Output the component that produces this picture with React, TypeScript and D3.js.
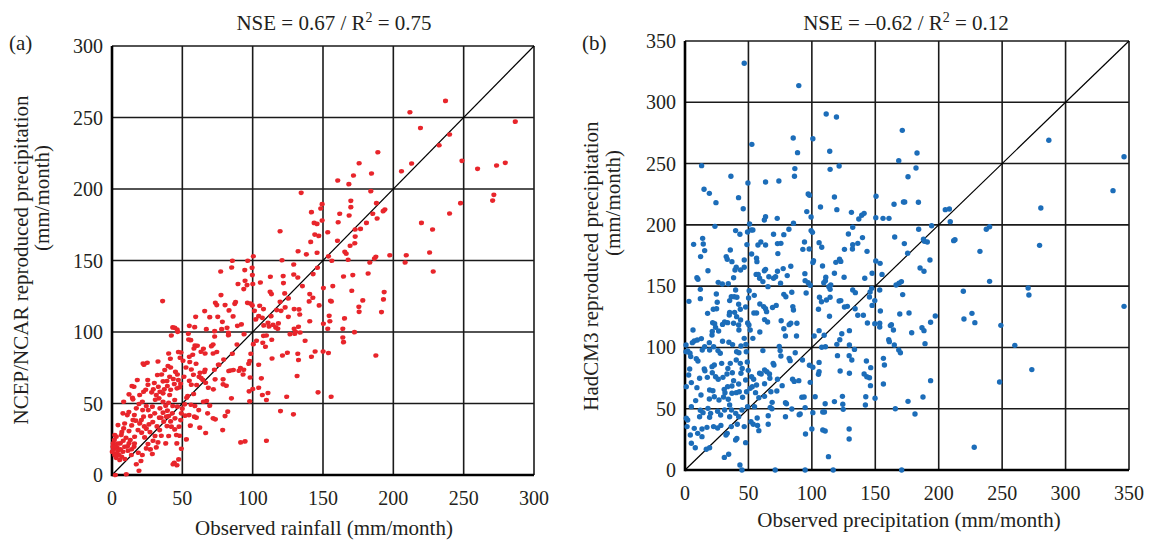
import React from "react";
import * as d3 from "d3";

const ticksA = [0, 50, 100, 150, 200, 250, 300];
const ticksB = [0, 50, 100, 150, 200, 250, 300, 350];

const pointsA: [number, number][] = [
[237.1,261.6],[211.8,253.7],[286.7,247.1],[219.3,242.7],[240,238.1],[232.6,230.6],[189,225.7],[248.8,219.7],[175.7,218],[213,217.8],[273.4,216.4],[279.6,218.3],[259.9,214.1],[205.8,212.4],[184.5,210.8],[171.7,209.4],[160.5,205.9],[168.4,203.4],[184,198.5],[134.5,197.3],[271.5,195.9],[270.6,191.9],[169.8,191.7],[247.8,190.1],[149.4,189.4],[188,190.1],[148.4,186.4],[169.8,187.3],[194,185.6],[192.8,184.5],[141.8,183.8],[161.9,182.7],[185.4,182.7],[168.6,181.5],[240,182.9],[188.5,179.4],[149.4,178],[143.7,176.3],[145.8,175.6],[160.8,176.8],[180.9,176.3],[220,176.3],[176.7,172.1],[172.9,171.7],[227.9,171.7],[119.5,170.5],[153.4,169.8],[144.2,168.1],[147,167.2],[172.9,166.7],[160.3,163.8],[141.3,163],[172.6,162.1],[169.3,160.3],[132.3,156.5],[165.5,156.1],[145.8,155.4],[225.8,155.6],[138.2,154.3],[166.5,154.7],[197.5,153.7],[209.2,153.7],[153.9,152.9],[187.6,152.6],[186.6,151.4],[100.5,153],[85.6,149.8],[96.5,149.8],[120.9,150.2],[167.9,150.5],[156.3,149.8],[208.4,148.6],[183.3,148.6],[129.2,147.2],[146.1,144.9],[85.1,145.1],[94.4,143.3],[99.6,144.9],[77.3,142.3],[228.4,142.3],[182.1,140.9],[164.6,138.8],[171.2,139.8],[143,140.5],[121.7,139.1],[112.6,138.6],[129.2,140.2],[132.1,138.1],[99.8,139.8],[121.9,134.2],[94.6,135.8],[105.5,134.6],[89.6,133.6],[100.1,133.6],[96,132.8],[93.7,130],[135.4,132.1],[150.3,130.7],[157,132.1],[170.5,128.8],[193.5,127.9],[112.4,128.1],[113.4,126.5],[122.8,127],[77.5,125.8],[140.6,126.5],[142.8,124],[125.4,123.5],[193,122.8],[178.3,122.1],[155.3,121.9],[156,121.4],[140.2,121.4],[119.5,121.1],[73.5,120.4],[36,121.6],[87.3,119.7],[87.9,120.9],[96.3,120.4],[98.4,119.9],[99.8,118.6],[80.4,118.8],[74.5,118.8],[105,118.4],[147.3,118.6],[175.5,117.6],[175.7,114.1],[191.6,113.9],[165.3,109.5],[65.9,114.6],[83.2,115.1],[75.2,110.6],[86.1,110.9],[101.3,114.8],[107.7,116],[117.1,115.3],[120.2,114.8],[129.5,116],[133,115.8],[123.1,117.2],[125.4,110.6],[133.5,112.2],[154.4,111.3],[69.5,110.4],[59.5,110.6],[104.3,111.1],[106.9,109.9],[102.2,108.8],[113.1,111.1],[140.6,107.5],[154.9,107.5],[78.5,107.1],[92,105.3],[89.2,104.3],[81.8,102.9],[58.8,103.4],[55,104.3],[67.1,102],[78,102],[82.8,99.4],[43.2,103.2],[44.6,103],[46.3,101.8],[42.2,97.6],[46.7,100.1],[110.9,106.4],[107.9,104.6],[114.5,105.1],[118.3,106],[111.7,103.9],[116.4,103.2],[117.9,102.3],[129.5,102.3],[132.6,103.7],[133.8,99.7],[130,98.8],[126.6,98.5],[130.4,100.1],[150.3,105.8],[153.4,102.3],[164.1,102.3],[172.4,99.9],[164.1,96.2],[164.6,92.9],[107.7,97.3],[109.8,97.6],[113.6,94.6],[107.2,92.5],[109.1,89.7],[102.7,93.9],[100.5,91.5],[88.9,91.3],[93.9,98.5],[73,100.6],[73,96.9],[82.8,97.8],[71.9,91.3],[70.7,90.1],[65,88.3],[54.3,98.8],[54.5,94.8],[56,94.3],[59,90.6],[60.7,90.4],[58.3,88.5],[63.3,86.2],[57.4,84.1],[55,82.7],[47.2,86],[49.1,85.7],[40.3,85],[48.4,82],[41.5,81.3],[32.7,79.4],[25.1,78.5],[22.1,78],[66.2,85],[71.9,85],[74.5,86],[85.6,84.8],[98.7,84.8],[97.9,79.7],[97.2,77.8],[104.3,77.1],[79.4,80.8],[76.1,77.1],[72.8,73.6],[66.2,73.6],[65.7,72],[59.8,77.8],[55.3,79],[50.5,79.9],[52.6,75.2],[56.4,73.8],[62.6,71.5],[57.9,70.1],[51.2,68.7],[45.1,72.2],[46.5,70.3],[39.8,76.2],[41.7,75.2],[37.5,73.4],[35.3,70.3],[32.3,69.9],[41,68.7],[43.6,67.1],[47.2,66.4],[48.8,63.8],[44.3,63.6],[39.1,65.7],[36.3,65.5],[30.1,64.3],[25.4,66.4],[22.5,58.2],[24,59.6],[29.4,59.9],[33,61.7],[34.1,58.2],[37.2,59.9],[39.4,62.2],[41.7,59.6],[46.2,60.6],[48.1,61.3],[55,65.9],[56.4,63.1],[60.2,62.9],[64.5,66.6],[61.9,68.7],[63.3,67.8],[66.6,64.5],[68.5,61],[73.3,66.9],[72.1,59.9],[79,66.9],[81.3,62.4],[79,63.4],[91.3,74.8],[93.7,73.6],[90.3,72.9],[93.2,70.3],[98.2,68.2],[106.2,67.6],[97.5,58.5],[100.1,60.1],[104.3,61],[106.9,55.9],[110.9,57.3],[109.8,52.4],[97.9,51.5],[84.9,53.6],[83,72.7],[84.2,73.1],[86.3,73.4],[75.6,77.1],[121.2,83.6],[124.7,85.5],[132.1,84.8],[132.6,80.4],[137.3,93.9],[131.6,69.2],[141.8,82.7],[144.4,86.4],[150.1,86.4],[153.9,85.3],[113.8,81.5],[146.5,57.8],[155.8,54.7],[124.2,54.7],[119.8,44.7],[129,42.4],[187.6,83.6],[109.8,24],[91.5,22.8],[94.6,23.5],
[67.3,51.7],[69.5,48.5],[65,51.2],[68,43.1],[73.5,38.9],[71.9,39.6],[78.7,31.4],[80.4,41.2],[82.3,44.3],[66.6,29.4],[62.4,33.1],[55.7,34.5],[61.7,45.4],[60,40.1],[58.6,40.8],[54.8,41.9],[59,48.2],[56.2,49.1],[53.1,54],[53.8,55.2],[58.1,56.6],[51.7,49.4],[50,46.4],[49.3,43.1],[52,41.5],[48.8,38.4],[47.7,33.8],[45.8,28],[48.1,27.5],[52.9,24.9],[46.1,22.1],[49.3,18.4],[47.4,10.9],[46.2,6.8],[43.4,7.5],[44.3,8.6],[42.9,43.1],[44.8,39.6],[41.7,37.5],[40.3,41.2],[39.4,45],[38.2,48.5],[40.3,50.5],[36.3,51.2],[33.4,53.6],[30.8,52.6],[34.1,46.6],[33.7,40.1],[36.8,37.3],[39.1,34.2],[40.3,27.3],[38.2,22.1],[33.9,31.4],[30.6,27.3],[29.2,24],[31.5,19.3],[27.3,17.9],[28.7,14.7],[25.6,21.7],[23.2,26.3],[21.1,29.6],[24.4,32.4],[26.3,35.4],[22.5,40.8],[20.9,38.4],[27.3,41.2],[25.8,45.4],[21.8,45.4],[19.2,49.6],[17.3,46.6],[15.9,41.9],[14.9,38.4],[14,34.7],[12.1,30.7],[13,24.5],[15.7,19.8],[18.7,15.6],[20.6,9.8],[19.2,3],[17.3,7.5],[10.2,0.5],[2.4,0],[9.2,11.2],[6.9,12.8],[4.5,17],[1.9,14],[1.2,17.9],[0.9,22.1],[1.7,24.5],[3.1,26.8],[4.3,34.9],[7.8,43.1],[8.3,51.2],[5.9,22.1],[9,19.8],[11.4,17],[13.8,14],[12.1,22.1],[5.5,10.5],[3.1,15.1],[7.8,16.3],[14.9,52.9],[14.2,62.2],[15.7,61.7],[12.1,56.4],[14.5,54],[18,66.4],[22.8,77.1],[25.6,63.1],[28.2,57.8],[31.5,55.9],[19.7,55.9],[21.6,51.2],[24.4,48.2],[28.7,47.8],[30.4,43.1],[36.3,43.6],[38.7,40.8],[42.2,33.8],[44.6,31.9],[35.1,27.5],[32.7,22.8],[24.4,18.6],[21.6,14],[16.1,26.8],[18.5,31.4],[19.7,36.1],[10.9,41.9],[8.3,32.6],[6.6,28],[3.6,19.3],[0.2,16.3],[0.7,19.8],[41,55.9],[36.3,57.1],[44.6,52.4],[46.5,47.8],[43.2,48.2],
[2,20],[4,22],[6,18],[8,24],[10,26],[3,12],[5,14],[11,20],[14,18],[16,22],[2,28],[7,30],[9,36],[12,44],[17,38],[23,34],[27,30],[29,37],[32,34],[35,40]
];

const pointsB: [number, number][] = [
[46.7,331.8],[89.7,313.6],[111.3,290.5],[119.4,288],[171.3,277.1],[52.7,265.7],[85.3,270.9],[100.8,270.3],[286.8,269],[88.7,258.9],[114.1,260],[182.9,258.6],[168.5,252.4],[346.1,255.6],[13.1,248.3],[86.6,245.9],[114.4,245.3],[121.5,248],[182.1,246.4],[36.2,239.6],[86.3,239.6],[175.8,239.3],[63.5,235],[74,235.8],[49.6,234.2],[15,229],[19.2,225.7],[42.2,222.2],[97.1,225.2],[98.1,224.1],[117.8,222.7],[150.6,223.3],[337.4,227.9],[24.4,218.1],[45.9,213.2],[106.8,214.6],[119.7,212.4],[131.2,210.2],[96,210.8],[164.8,216.8],[172.2,218.7],[173.2,218.7],[184,218.4],[205.2,212.4],[208.4,212.9],[280.5,213.8],[99.4,206.4],[137,204.8],[139.3,207.8],[141.2,209.4],[150.4,205.9],[156.1,205.3],[160.8,205.3],[209.1,202.6],[23.6,198.8],[50.9,200.7],[62.5,204],[63.5,206.7],[72.7,205.3],[85.5,201.3],[49.3,194.2],[53.5,195.8],[52.2,195.8],[39.9,195.3],[43.3,192.3],[81.9,196.4],[69.8,192.3],[77.9,192],[99.4,195.3],[100.5,193.9],[132.2,198],[128.8,192.5],[194.4,199.3],[184.2,196.4],[237.5,196.4],[240.1,198.5],[165.3,190.1],[139.9,189.6],[48.8,183.9],[6.8,184.1],[13.9,189],[14.4,184.4],[57.5,183.6],[59.8,186],[63.5,183.6],[72.9,184.7],[75.6,184.9],[94.2,186],[105.7,185.5],[107.8,181.7],[132.2,183.8],[132,180.3],[136.2,184.9],[125.7,180],[92.9,180],[97.9,180.3],[143.5,178.4],[172.9,184.7],[175.5,176.8],[191,186],[188.7,186.6],[188,188.2],[211.8,187.1],[212.8,187.9],[232.5,178.4],[279.5,183.3],[35.7,179.5],[12.3,174.1],[52.5,176.2],[73.2,176.5],[32.5,174.1],[33.3,171.9],[37,170],[46.7,171.3],[56.4,172.7],[56.7,170],[40.4,165.4],[39.4,163.2],[43.8,163.2],[46.7,165.4],[38.3,156.9],[9.4,156.9],[10.2,155.6],[18.1,162.6],[29.4,151.8],[34.1,152],[56.1,159.6],[57.7,159.6],[58.8,156.4],[62.5,162.6],[63.5,163.7],[66.1,157.7],[65.4,149.6],[61.4,153.7],[69.8,156.4],[71.4,157.7],[72.9,162.1],[77.4,164.3],[80.6,158.6],[83.4,166.2],[94.5,160.2],[75.3,152.3],[100.8,169.2],[101.3,170.8],[108.4,166.4],[117.8,160.5],[118.9,169.4],[121.8,171.9],[122.8,170.2],[125.4,157.2],[111,157.2],[110.7,154.5],[94.7,154.5],[97.1,152.8],[98.7,150.7],[109.4,152.8],[113.4,149.6],[114.9,150.9],[114.4,147.4],[132.2,146.9],[134.3,144.7],[141.7,156.4],[147.5,160.5],[153.8,168.6],[150.4,170.5],[155.3,159.6],[145.9,145.2],[147.2,148.2],[153.5,146.9],[145.4,141.1],[149.6,138.2],[147.5,134.3],[140.6,126.2],[136.2,126.2],[134.1,131.6],[128,133.5],[154,129.7],[170.6,153.7],[168.7,152.3],[166.4,150.9],[171.6,143.1],[169.3,127.3],[176.6,128.1],[193.1,171.3],[185.3,164.8],[188.4,162.1],[219.4,145.8],[240.1,153.9],[270.5,148.5],[271.1,142.8],[346.1,133.5],[219.9,123.2],[226.2,127.8],[228.5,120.2],[249,118],[197.3,125.6],[193.6,120.5],[186.8,116.1],[188.4,113.7],[178.7,112],[189.2,103.1],[162.7,118.6],[164.3,114.2],[161.9,117.8],[153.5,119.7],[149.6,119.4],[153.5,116.7],[143.8,119.9],[160.6,106.3],[161.1,104.7],[165,102],[168.5,97.9],[169.8,95.7],[156.4,91.1],[157.2,85.7],[156.4,70.2],[146.4,83.5],[145.4,75.3],[143.3,76.1],[146.2,68.8],[141.2,78.3],[143,88.9],[149.8,58.5],[142.5,59.8],[142.2,53],[124.1,60.1],[117.8,55.8],[124.4,53.6],[124.7,49.5],[129.4,33.5],[129.4,25.3],[113.1,10.9],[116.8,0],[109.9,47.3],[108.6,32.6],[110.5,31.8],[110.5,54.1],[108.6,47.3],[102.6,59.8],[100.8,46.8],[100,33.5],[95,29.4],[94.7,0],[71.1,0],[44.9,0],[43.3,4.1],[170.8,0],[228,18.5],[181.3,45.7],[175.8,56],[187.6,59.6],[193.6,72.9],[165.8,50],[248,71.8],[260,101.7],[273.4,81.9],[129.6,78.9],[122.3,80.8],[120.2,93.3],[131.5,89.7],[129.4,93.3],[133.6,98.4],[129.6,102],[129.6,113.7],[123.6,111.2],[122,106.3],[119.7,102.5],[110.7,100.6],[107.8,100.1],[109.7,109.9],[105.7,113.7],[101.8,109.3],[105.7,87.8],[105.2,78.1],[105.7,80.2],[100.8,83.8],[98.1,85.4],[98.7,71.5],[92.6,89.7],[89.7,72.9],[86.9,95.7],[82.9,89.2],[82.1,91.1],[74.3,100.9],[75,97.4],[75.6,93],[70.1,85.7],[69.5,87],[66.6,78.3],[66.9,74.8],[72.9,74],[76.6,68.8],[72.4,64.5],[67.7,63.9],[79.2,54.9],[80,54.1],[84.2,49.8],[79.2,43.5],[84.8,74],[86.1,72.3],[92.1,59.3],[93.9,59.6],[94.7,50.9],[90.8,45.7],[90,45.1],[67.2,51.1],[68.5,50],[65.6,44.3],[65.6,37.3],[68.7,55.2],[58.2,32.1],[57.2,36.4],[56.9,42.4],[52,39.4],[53.8,37.3],[54.8,51.7],[58.2,59],[62.7,60.1],[55.6,63.1],[56.4,69.4],[53,68],[62.7,70.4],[58.8,78.9],[60.1,78.3],[62.7,81.6],[64.5,80.2],[54.1,74],[47.8,73.4],[52.5,76.1],[49.9,81.3],[49.1,88.1],[43.6,87],[45.1,82.9],[44.1,78.9],[40.4,89.7],[42.5,95.7],[48.3,96.5],[46.7,107.4],[42.5,114.2],[50.4,118.3],[51.4,114.2],[48,102.5],[44.1,101.2],[40.7,96.5],[37.5,102.3],[34.6,104.2],[29.6,105],[26.5,113.4],[24.1,116.4],[29.6,118.8],[33.6,120.2],[38.3,119.7],[42.3,118.3],[43.8,122.4],[40.7,125.1],[39.1,128.6],[43.6,131.1],[42.3,135.2],[36.5,141.4],[38.8,141.4],[40.9,140.9],[35.2,138.2],[39.9,146.9],[35.2,128.6],[34.9,126.5],[31.2,120.7],[24.7,143.6],[25.4,136.8],[24.9,131.6],[22.3,131.1],[17.8,127.8],[21.8,120.2],[23.4,119.4],[21.5,113.1],[21.3,110.1],[19.2,103.9],[12.9,107.2],[9.7,106.1],[7.3,105.3],[5.8,103.9],[0.8,102],[2.1,97.1],[6.3,114.2],[3.1,137.6],[12.1,139.8],[12.1,147.4],[50.1,140.3],[50.6,146.3],[54.6,142.5],[47.8,133],[49.4,119.9],[54.3,128.1],[56.4,128.1],[59,135.4],[62,133.3],[63.5,131.6],[64.3,129.2],[65.1,120.7],[62.7,122.7],[59,112.6],[53.5,107.4],[61.4,97.4],[71.9,134.3],[69,132.6],[75.8,121.8],[77.9,115.3],[79.2,109.3],[82.1,118.6],[83.4,119.7],[84.2,145],[85,133.3],[85.5,130.5],[77.9,143.3],[79.5,141.4],[88.2,119.7],[87.9,109.3],[95.5,144.4],[105.2,131.1],[106,140.9],[107.6,137.3],[111.5,138.7],[114.4,140.9],[113.9,125.4],[121.5,137.9],[122.8,138.2],[125.7,133],[26.2,153.1],[15.5,179],
[0.8,96.5],[3.9,95.2],[4.5,92.5],[8.9,90.8],[10.2,88.9],[13.6,97.9],[15.5,100.6],[19.4,97.9],[22.6,100.6],[26,97.4],[27.8,95.2],[28.9,87],[21.3,84.3],[23.1,85.7],[15.2,82.4],[15.7,81],[11.5,74.8],[17.6,75.6],[24.1,76.1],[21.5,79.4],[26.2,74],[29.9,75.6],[33.1,78.3],[35.7,87],[33.8,82.9],[37.3,79.4],[38.3,72.9],[42.3,70.2],[37,68.5],[33.6,68],[30.9,65.8],[31.5,63.1],[3.7,82.4],[2.9,77.5],[5,71.3],[1,68],[9.4,67.2],[12.6,61.2],[19.4,65.3],[22,64.7],[19.2,57.9],[23.1,59.8],[26.8,57.1],[30.4,59.6],[34.1,57.7],[37,62.6],[40.4,63.1],[42.8,63.9],[45.4,59.3],[48.5,63.9],[8.4,56.6],[5,51.7],[12.1,48.7],[14.2,46.8],[11.5,43.5],[18.1,50.3],[20.2,46.2],[19.4,43],[25.7,47.9],[28.1,44.9],[31.2,49],[35.2,53],[36.7,49],[35.2,43.5],[40,46.2],[41.2,37.3],[36.5,35.4],[33.3,29.9],[32.3,28.6],[40.9,25.8],[46.7,35.4],[47.8,22.3],[28.3,36.4],[25.7,34.3],[22.5,35.4],[17.3,34.8],[13.4,33.5],[13.4,27.2],[10,29.9],[7.3,34],[4.2,28.6],[1.6,35.4],[2.1,40.8],[1,42.2],[8.1,18.2],[5,21.8],[16.8,16.9],[31,10.3],[34.4,12.8],[19.4,18.2],[39.9,24.5],[42.3,43.5],[44.9,49],[49.3,51.7],[51.4,66.6]
];

const FONT = "'Liberation Serif', 'Times New Roman', serif";
const TXT = "#231f20";

type PanelProps = {
  points: [number, number][];
  ticks: number[];
  max: number;
  box: { left: number; right: number; top: number; bottom: number };
  color: string;
  rx: number;
  ry: number;
  title: React.ReactNode;
  titleX: number;
  letter: string;
  letterX: number;
  xLabel: string;
  xLabelX: number;
  xLabelY: number;
  xTickY: number;
  yLabel1: string;
  yLabel1X: number;
  yLabel1Y: number;
  yLabel2X: number;
  yLabel2Y: number;
};

function Panel(p: PanelProps) {
  const { left, right, top, bottom } = p.box;
  const x = d3.scaleLinear().domain([0, p.max]).range([left, right]);
  const y = d3.scaleLinear().domain([0, p.max]).range([bottom, top]);
  return (
    <g>
      {p.ticks.map((t) => (
        <line key={"v" + t} x1={x(t)} x2={x(t)} y1={top} y2={bottom} stroke="#1a1a1a" strokeWidth={1.6} />
      ))}
      {p.ticks.map((t) => (
        <line key={"h" + t} x1={left} x2={right} y1={y(t)} y2={y(t)} stroke="#1a1a1a" strokeWidth={1.6} />
      ))}
      <line x1={x(0)} y1={y(0)} x2={x(p.max)} y2={y(p.max)} stroke="#000" strokeWidth={1.2} />
      <line x1={left} x2={right} y1={bottom} y2={bottom} stroke="#000" strokeWidth={2.6} />
      <line x1={left} x2={left} y1={top} y2={bottom + 1.3} stroke="#000" strokeWidth={2.6} />
      {p.points.map((d, i) => (
        <ellipse key={i} cx={x(d[0])} cy={y(d[1])} rx={p.rx} ry={p.ry} fill={p.color} />
      ))}
      {p.ticks.map((t) => (
        <text key={"xt" + t} x={x(t)} y={p.xTickY} textAnchor="middle" fontFamily={FONT} fontSize={20} fill={TXT}>
          {t}
        </text>
      ))}
      {p.ticks.map((t) => (
        <text key={"yt" + t} x={left - 9} y={y(t) + 7} textAnchor="end" fontFamily={FONT} fontSize={20} fill={TXT}>
          {t}
        </text>
      ))}
      <text x={p.titleX} y={30} textAnchor="middle" fontFamily={FONT} fontSize={21} fill={TXT}>
        {p.title}
      </text>
      <text x={p.letterX} y={50} fontFamily={FONT} fontSize={21} fill={TXT}>
        {p.letter}
      </text>
      <text x={p.xLabelX} y={p.xLabelY} textAnchor="middle" fontFamily={FONT} fontSize={21} fill={TXT}>
        {p.xLabel}
      </text>
      <text
        transform={`translate(${p.yLabel1X},${p.yLabel1Y}) rotate(-90)`}
        textAnchor="middle"
        fontFamily={FONT}
        fontSize={21}
        fill={TXT}
      >
        {p.yLabel1}
      </text>
      <text
        transform={`translate(${p.yLabel2X},${p.yLabel2Y}) rotate(-90)`}
        textAnchor="middle"
        fontFamily={FONT}
        fontSize={21}
        fill={TXT}
      >
        (mm/month)
      </text>
    </g>
  );
}

export default function App() {
  const titleA = (
    <>
      <tspan>NSE = 0.67 / R</tspan>
      <tspan fontSize={14} dy={-8}>2</tspan>
      <tspan dy={8}> = 0.75</tspan>
    </>
  );
  const titleB = (
    <>
      <tspan>NSE = –0.62 / R</tspan>
      <tspan fontSize={14} dy={-8}>2</tspan>
      <tspan dy={8}> = 0.12</tspan>
    </>
  );
  return (
    <svg
      width={1152}
      height={541}
      style={{ position: "absolute", left: 0, top: 0, background: "#fff" }}
    >
      <Panel
        points={pointsA}
        ticks={ticksA}
        max={300}
        box={{ left: 112, right: 534, top: 46, bottom: 475 }}
        color="#e8252b"
        rx={2.6}
        ry={2.3}
        title={titleA}
        titleX={334}
        letter="(a)"
        letterX={9}
        xLabel="Observed rainfall (mm/month)"
        xLabelX={324}
        xLabelY={535}
        xTickY={505}
        yLabel1="NCEP/NCAR reproduced precipitation"
        yLabel1X={28}
        yLabel1Y={260}
        yLabel2X={49}
        yLabel2Y={198}
      />
      <Panel
        points={pointsB}
        ticks={ticksB}
        max={350}
        box={{ left: 685, right: 1129, top: 41, bottom: 470 }}
        color="#1c6db9"
        rx={2.7}
        ry={2.7}
        title={titleB}
        titleX={906}
        letter="(b)"
        letterX={582}
        xLabel="Observed precipitation (mm/month)"
        xLabelX={909}
        xLabelY={527}
        xTickY={500}
        yLabel1="HadCM3 reproduced precipitation"
        yLabel1X={598}
        yLabel1Y={266}
        yLabel2X={620}
        yLabel2Y={203}
      />
    </svg>
  );
}
